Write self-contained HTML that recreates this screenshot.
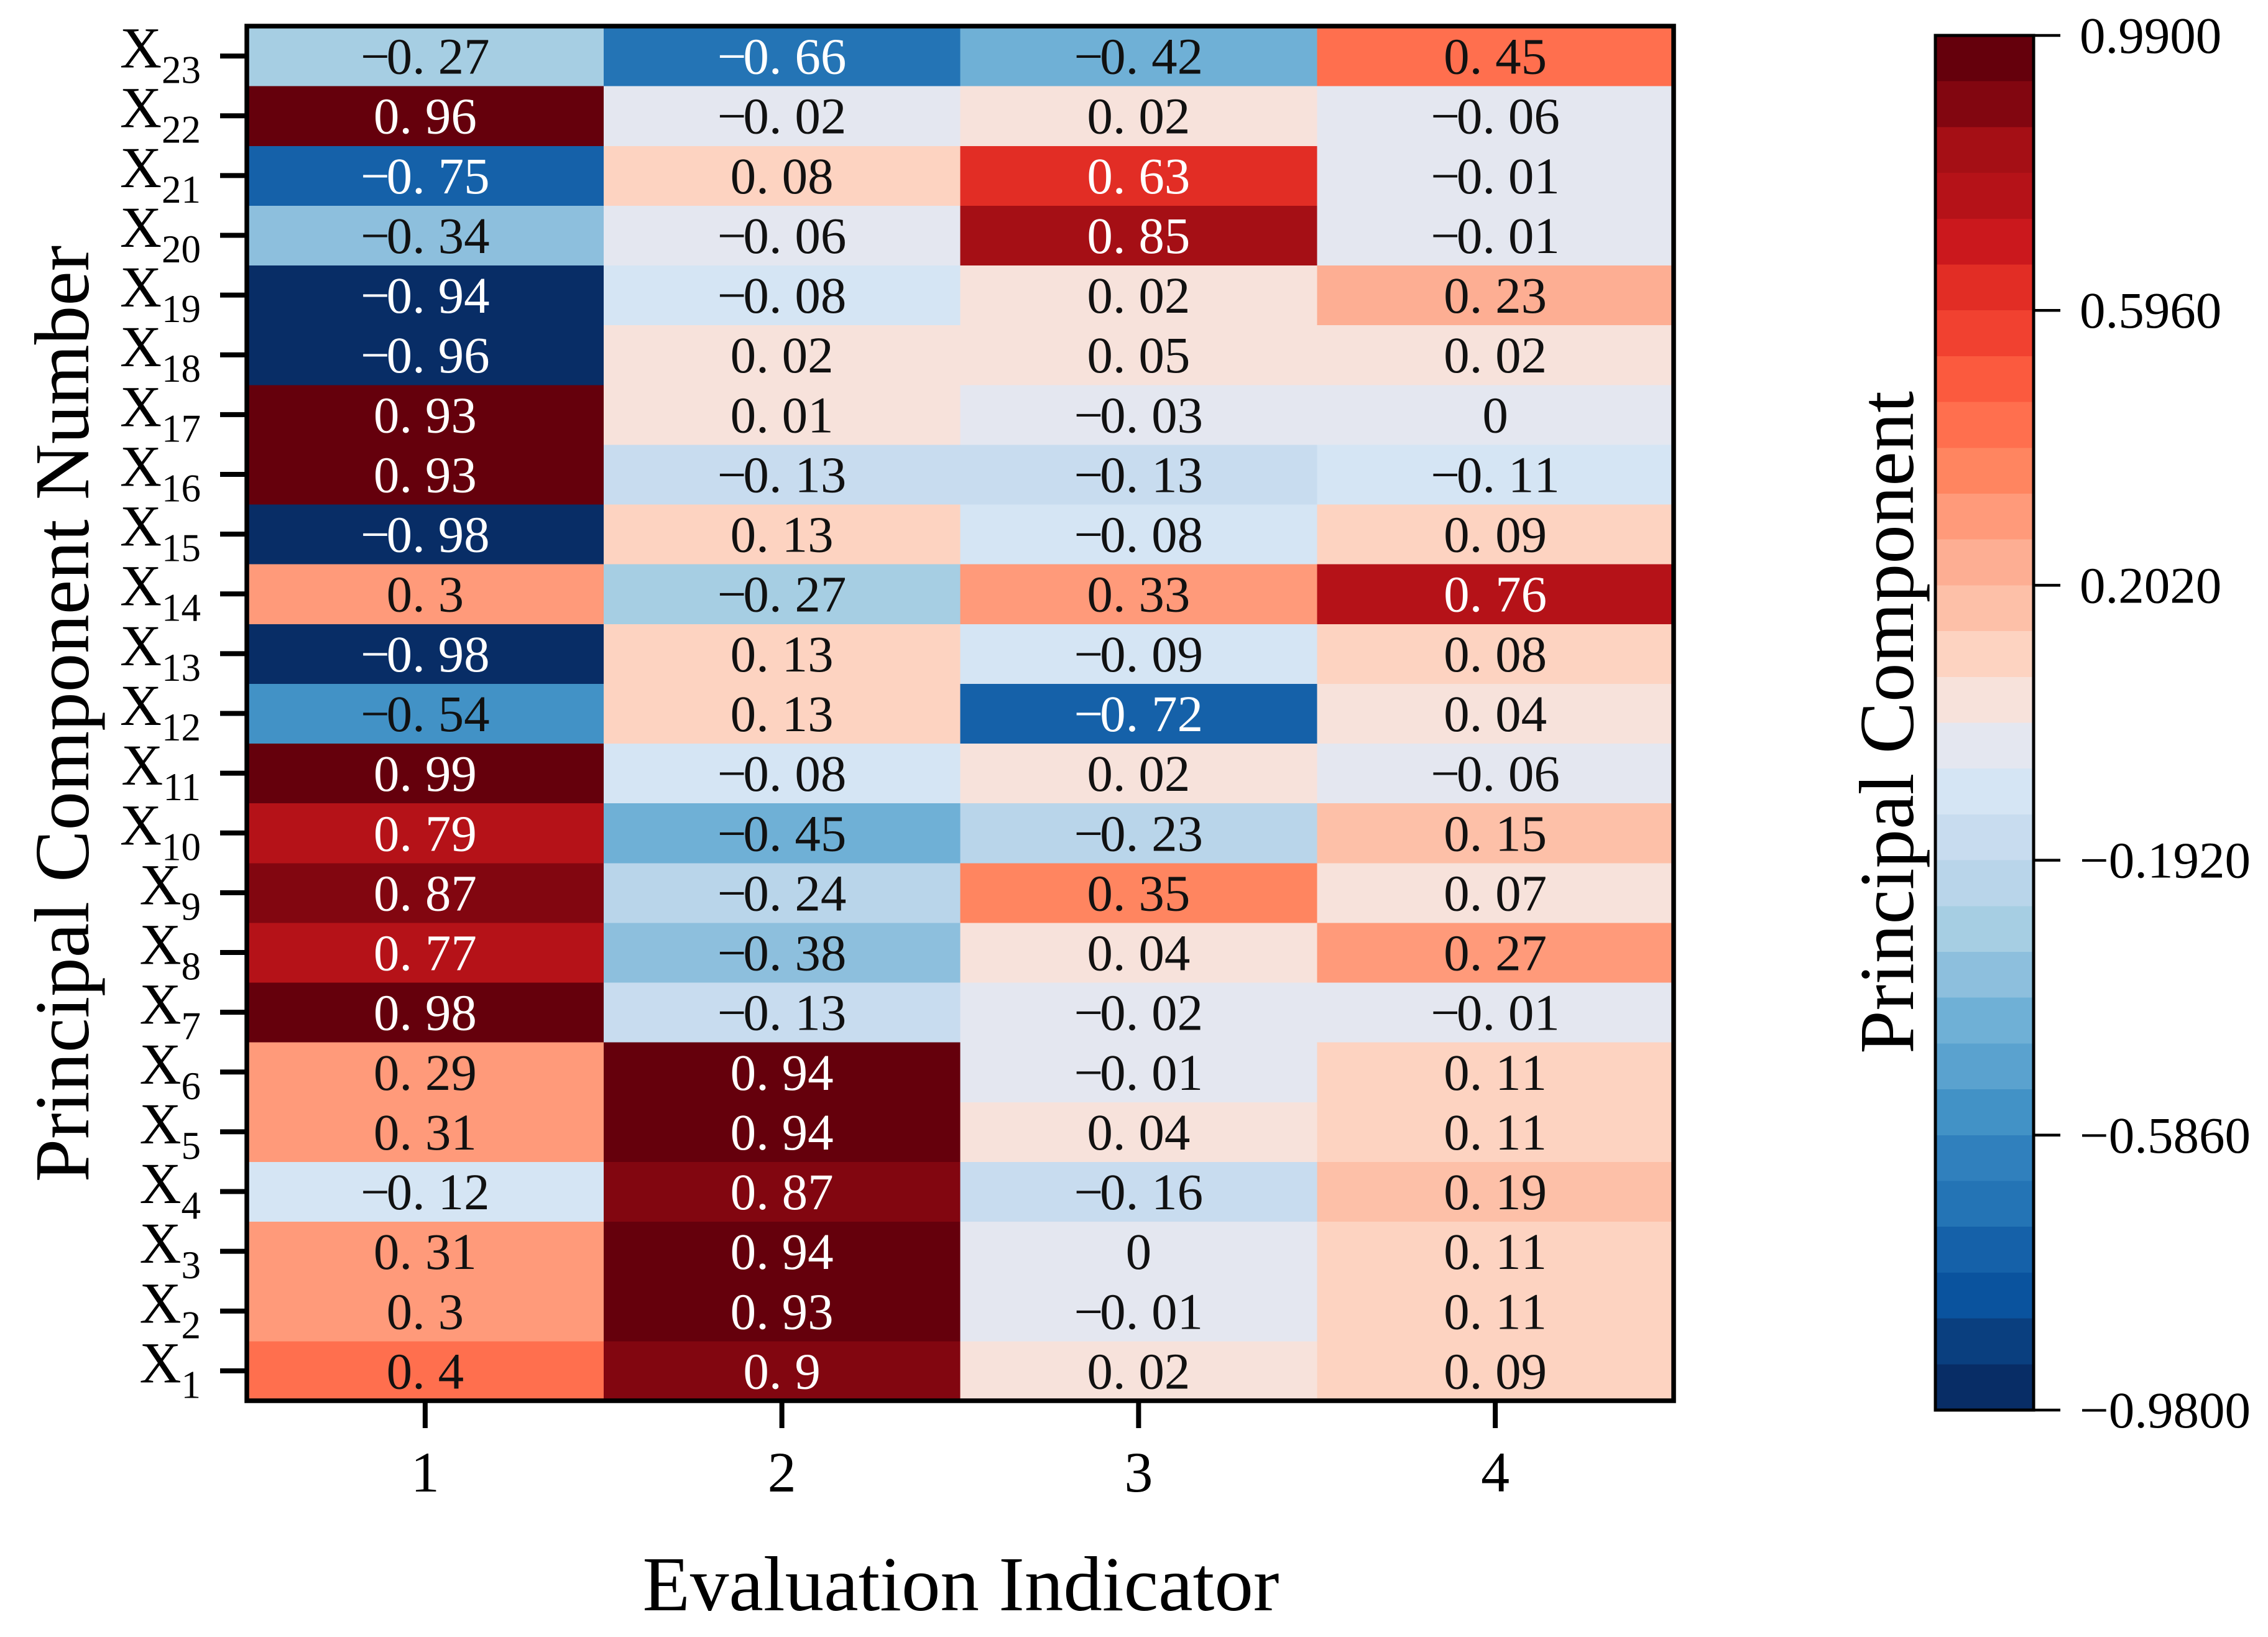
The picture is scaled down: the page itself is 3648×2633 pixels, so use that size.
<!DOCTYPE html>
<html lang="en">
<head>
<meta charset="utf-8">
<title>Principal Component Heatmap</title>
<style>
html,body{margin:0;padding:0;background:#fff;width:3648px;height:2633px;overflow:hidden}
svg{display:block}
text{font-family:"Liberation Serif","Times New Roman",serif;fill:#000}
</style>
</head>
<body>
<svg id="chart" xmlns="http://www.w3.org/2000/svg" width="3648" height="2633" viewBox="0 0 3648 2633">
  <rect x="0" y="0" width="3648" height="2633" fill="#ffffff"/>
  <g id="cells"></g>
  <g id="cell-labels"></g>
  <rect x="397" y="42" width="2295" height="2211" fill="none" stroke="#000" stroke-width="7.5"/>
  <g id="x-axis"></g>
  <g id="y-axis"></g>
  <text x="1545.5" y="2590" font-size="125" text-anchor="middle">Evaluation Indicator</text>
  <text transform="translate(142 1148) rotate(-90)" font-size="125" text-anchor="middle">Principal Component Number</text>
  <g id="colorbar"></g>
  <rect x="3113" y="57" width="158" height="2211" fill="none" stroke="#000" stroke-width="5"/>
  <g id="colorbar-axis"></g>
  <text transform="translate(3077 1162) rotate(-90)" font-size="125" text-anchor="middle">Principal Component</text>
</svg>
<script>
// Categories, ordered bottom to top (X1 .. X23)
const rowNumbers = [1,2,3,4,5,6,7,8,9,10,11,12,13,14,15,16,17,18,19,20,21,22,23];
const columnLabels = ["1","2","3","4"];
// Series values, one array per evaluation indicator, X1 .. X23
const indicator1 = [0.4,0.3,0.31,-0.12,0.31,0.29,0.98,0.77,0.87,0.79,0.99,-0.54,-0.98,0.3,-0.98,0.93,0.93,-0.96,-0.94,-0.34,-0.75,0.96,-0.27];
const indicator2 = [0.9,0.93,0.94,0.87,0.94,0.94,-0.13,-0.38,-0.24,-0.45,-0.08,0.13,0.13,-0.27,0.13,-0.13,0.01,0.02,-0.08,-0.06,0.08,-0.02,-0.66];
const indicator3 = [0.02,-0.01,0,-0.16,0.04,-0.01,-0.02,0.04,0.35,-0.23,0.02,-0.72,-0.09,0.33,-0.08,-0.13,-0.03,0.05,0.02,0.85,0.63,0.02,-0.42];
const indicator4 = [0.09,0.11,0.11,0.19,0.11,0.11,-0.01,0.27,0.07,0.15,-0.06,0.04,0.08,0.76,0.09,-0.11,0,0.02,0.23,-0.01,-0.01,-0.06,0.45];
const seriesValues = [indicator1, indicator2, indicator3, indicator4];
// Colorbar scale
const colorbarTicks = [0.99,0.596,0.202,-0.192,-0.586,-0.98];
const colorMin = -0.98;
const colorMax = 0.99;
// Discrete palette, top band (colorMax) to bottom band (colorMin)
const palette = ["#65000c","#820610","#a50f15","#b51218","#cb181d","#e22d25","#f14130","#fb5a3e","#ff6f4e","#ff8560","#ff9a7a","#fdae93","#fdc0a8","#fdd3c1","#f7e2db","#e4e7f0","#d5e5f4","#c8dcef","#b9d5ea","#a6cee3","#8dbfdd","#6fb0d6","#5aa2cf","#4292c6","#3080bd","#2474b5","#1561a9","#0a539e","#0a3f7f","#082d66"];

const NS = "http://www.w3.org/2000/svg";
const plot = {left:397, right:2692, top:42, bottom:2253};
const bar = {left:3113, right:3271, top:57, bottom:2268};

const colWidth = (plot.right - plot.left) / columnLabels.length;
const rowHeight = (plot.bottom - plot.top) / rowNumbers.length;
function xLeft(c){ return plot.left + c * colWidth; }
function xCenter(c){ return xLeft(c) + colWidth / 2; }
function yTop(r){ return plot.top + (rowNumbers.length - 1 - r) * rowHeight; }
function yCenter(r){ return yTop(r) + rowHeight / 2; }
function barY(v){ return bar.top + (colorMax - v) / (colorMax - colorMin) * (bar.bottom - bar.top); }
function bandIndex(v){
  const i = Math.floor((colorMax - v) / (colorMax - colorMin) * palette.length);
  return Math.max(0, Math.min(palette.length - 1, i));
}
function luminance(hex){
  const parts = [1,3,5].map(function(p){
    const c = parseInt(hex.substr(p,2),16) / 255;
    return c <= 0.03928 ? c / 12.92 : Math.pow((c + 0.055) / 1.055, 2.4);
  });
  return 0.2126 * parts[0] + 0.7152 * parts[1] + 0.0722 * parts[2];
}
function minusText(s){ return s.replace("-", "\u2212"); }
function make(tag, attrs, parent){
  const el = document.createElementNS(NS, tag);
  for (const k in attrs) el.setAttribute(k, attrs[k]);
  parent.appendChild(el);
  return el;
}

const cellsG = document.getElementById("cells");
const labelsG = document.getElementById("cell-labels");
const xAxisG = document.getElementById("x-axis");
const yAxisG = document.getElementById("y-axis");
const barG = document.getElementById("colorbar");
const barAxisG = document.getElementById("colorbar-axis");

const digitPitch = 41.5;

seriesValues.forEach(function(series, c){
  series.forEach(function(v, r){
    const color = palette[bandIndex(v)];
    const cell = make("rect", {x:xLeft(c), y:yTop(r), width:colWidth + 0.5, height:rowHeight + 0.5, fill:color, "shape-rendering":"crispEdges"}, cellsG);
    
    

    const str = minusText(String(v));
    const startX = xCenter(c) - str.length * digitPitch / 2;
    const xs = Array.from(str).map(function(ch, i){ return (startX + i * digitPitch).toFixed(1); }).join(" ");
    const label = make("text", {x:xs, y:yCenter(r) + 28.5, "font-size":83}, labelsG);
    label.style.fill = luminance(color) < 0.22 ? "#ffffff" : "#111111";
    label.textContent = str;
    
    
  });
});

columnLabels.forEach(function(name, c){
  const tick = make("line", {x1:xCenter(c), x2:xCenter(c), y1:plot.bottom, y2:2297, stroke:"#000", "stroke-width":8}, xAxisG);
  
  
  const label = make("text", {x:xCenter(c), y:2399, "font-size":92, "text-anchor":"middle"}, xAxisG);
  label.textContent = name;
  
  
});

rowNumbers.forEach(function(n, r){
  const tick = make("line", {x1:354, x2:plot.left, y1:yCenter(r), y2:yCenter(r), stroke:"#000", "stroke-width":8}, yAxisG);
  
  
  const label = make("text", {x:323, y:yCenter(r) + 18.5, "font-size":93, "text-anchor":"end"}, yAxisG);
  
  
  const main = make("tspan", {}, label);
  main.textContent = "X";
  const sub = make("tspan", {dy:25, "font-size":63}, label);
  sub.textContent = String(n);
});

palette.forEach(function(color, i){
  const step = (colorMax - colorMin) / palette.length;
  const yA = barY(colorMax - i * step);
  const yB = barY(colorMax - (i + 1) * step);
  const band = make("rect", {x:bar.left, y:yA, width:bar.right - bar.left, height:yB - yA + 0.5, fill:color, "shape-rendering":"crispEdges"}, barG);
  
  
});

colorbarTicks.forEach(function(v){
  const y = barY(v);
  const tick = make("line", {x1:bar.right, x2:3314, y1:y, y2:y, stroke:"#000", "stroke-width":4.5}, barAxisG);
  
  
  const label = make("text", {x:3345, y:y + 28, "font-size":83}, barAxisG);
  label.textContent = minusText(v.toFixed(4));
  
  
});
</script>
</body>
</html>
